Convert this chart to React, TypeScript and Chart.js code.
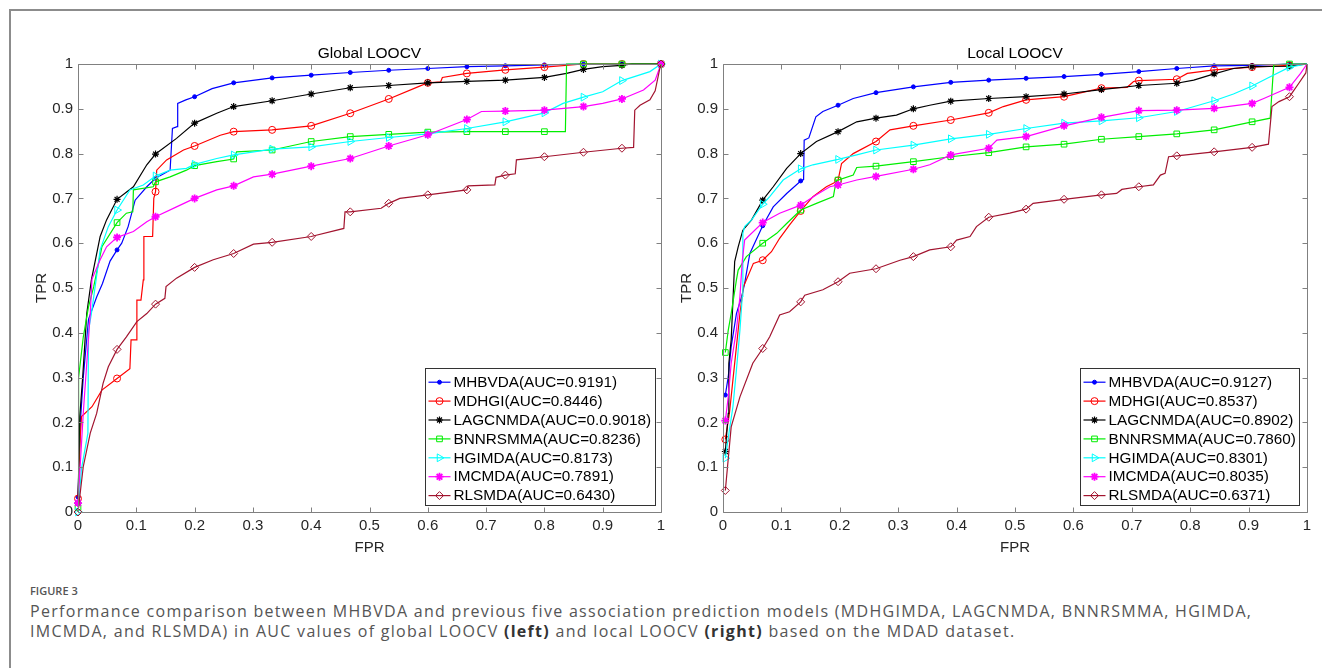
import React, { useEffect, useRef } from "react";
import { Chart, registerables } from "chart.js";
import { drawPoint } from "chart.js/helpers";

Chart.register(...registerables);

type Pt = [number, number];

const FONT = '"Liberation Sans", Arial, Helvetica, sans-serif';

const SERIES_NAMES = ["MHBVDA", "MDHGI", "LAGCNMDA", "BNNRSMMA", "HGIMDA", "IMCMDA", "RLSMDA"];
const GLOBAL_AUC = ["0.9191", "0.8446", "0.0.9018", "0.8236", "0.8173", "0.7891", "0.6430"];
const LOCAL_AUC = ["0.9127", "0.8537", "0.8902", "0.7860", "0.8301", "0.8035", "0.6371"];
const AXIS_TICKS = [0, 0.1, 0.2, 0.3, 0.4, 0.5, 0.6, 0.7, 0.8, 0.9, 1];

const MARKERS_GLOBAL = [0, 0.067, 0.133, 0.2, 0.267, 0.333, 0.4, 0.467, 0.533, 0.6, 0.667, 0.733, 0.8, 0.867, 0.933, 1];
const MARKERS_LOCAL = [0.004, 0.068, 0.133, 0.197, 0.262, 0.326, 0.39, 0.455, 0.519, 0.584, 0.648, 0.712, 0.777, 0.841, 0.906, 0.97];

// ---------- Global LOOCV ----------
const GLOBAL_MHBVDA: Pt[] = [[0, 0.033], [0.004, 0.2], [0.009, 0.3], [0.018, 0.43], [0.032, 0.48], [0.042, 0.51], [0.055, 0.56], [0.067, 0.585], [0.075, 0.6], [0.086, 0.637], [0.098, 0.696], [0.118, 0.726], [0.133, 0.745], [0.158, 0.763], [0.162, 0.856], [0.17, 0.86], [0.171, 0.912], [0.185, 0.92], [0.2, 0.927], [0.23, 0.945], [0.267, 0.958], [0.333, 0.969], [0.4, 0.975], [0.467, 0.981], [0.533, 0.986], [0.6, 0.99], [0.667, 0.994], [0.733, 0.996], [0.8, 0.998], [0.867, 1], [0.933, 1], [1, 1]];
const GLOBAL_MDHGI: Pt[] = [[0, 0.03], [0.004, 0.17], [0.006, 0.213], [0.024, 0.235], [0.041, 0.272], [0.067, 0.298], [0.089, 0.32], [0.091, 0.384], [0.1, 0.384], [0.101, 0.473], [0.108, 0.473], [0.112, 0.518], [0.113, 0.615], [0.128, 0.615], [0.13, 0.7], [0.133, 0.715], [0.135, 0.763], [0.152, 0.786], [0.181, 0.808], [0.2, 0.817], [0.244, 0.841], [0.267, 0.849], [0.333, 0.853], [0.4, 0.862], [0.467, 0.89], [0.533, 0.922], [0.585, 0.95], [0.6, 0.958], [0.622, 0.96], [0.625, 0.97], [0.667, 0.979], [0.733, 0.987], [0.8, 0.993], [0.867, 1], [0.933, 1], [1, 1]];
const GLOBAL_LAGCNMDA: Pt[] = [[0, 0.02], [0.003, 0.213], [0.008, 0.3], [0.015, 0.443], [0.023, 0.518], [0.038, 0.615], [0.049, 0.652], [0.067, 0.698], [0.095, 0.726], [0.118, 0.775], [0.133, 0.799], [0.169, 0.834], [0.2, 0.868], [0.238, 0.89], [0.267, 0.905], [0.333, 0.918], [0.4, 0.933], [0.467, 0.947], [0.533, 0.952], [0.6, 0.958], [0.667, 0.961], [0.733, 0.964], [0.8, 0.97], [0.838, 0.979], [0.867, 0.988], [0.9, 0.994], [0.933, 0.997], [0.95, 1], [1, 1]];
const GLOBAL_BNNRSMMA: Pt[] = [[0, 0.01], [0.001, 0.3], [0.009, 0.39], [0.018, 0.458], [0.027, 0.503], [0.041, 0.592], [0.067, 0.646], [0.083, 0.667], [0.094, 0.67], [0.095, 0.719], [0.129, 0.726], [0.133, 0.737], [0.158, 0.748], [0.186, 0.763], [0.2, 0.773], [0.238, 0.782], [0.267, 0.788], [0.272, 0.804], [0.333, 0.808], [0.4, 0.827], [0.467, 0.838], [0.533, 0.843], [0.6, 0.848], [0.667, 0.849], [0.733, 0.849], [0.8, 0.849], [0.836, 0.849], [0.838, 1], [0.867, 1], [0.933, 1], [1, 1]];
const GLOBAL_HGIMDA: Pt[] = [[0, 0], [0.006, 0.097], [0.017, 0.176], [0.018, 0.405], [0.023, 0.443], [0.031, 0.518], [0.038, 0.585], [0.052, 0.637], [0.067, 0.674], [0.089, 0.719], [0.112, 0.73], [0.133, 0.75], [0.158, 0.763], [0.186, 0.767], [0.2, 0.776], [0.238, 0.789], [0.267, 0.797], [0.333, 0.81], [0.4, 0.815], [0.467, 0.827], [0.533, 0.836], [0.6, 0.844], [0.667, 0.856], [0.733, 0.871], [0.8, 0.891], [0.832, 0.912], [0.867, 0.926], [0.9, 0.938], [0.933, 0.963], [0.981, 0.983], [1, 1]];
const GLOBAL_IMCMDA: Pt[] = [[0, 0.02], [0.009, 0.22], [0.021, 0.443], [0.024, 0.52], [0.038, 0.563], [0.049, 0.592], [0.067, 0.613], [0.095, 0.626], [0.118, 0.648], [0.133, 0.659], [0.169, 0.681], [0.2, 0.7], [0.238, 0.719], [0.267, 0.728], [0.301, 0.748], [0.333, 0.754], [0.4, 0.772], [0.467, 0.789], [0.533, 0.817], [0.6, 0.842], [0.667, 0.876], [0.692, 0.894], [0.733, 0.895], [0.8, 0.897], [0.867, 0.905], [0.9, 0.912], [0.933, 0.922], [0.97, 0.942], [0.99, 0.964], [1, 1]];
const GLOBAL_RLSMDA: Pt[] = [[0, 0], [0.009, 0.101], [0.021, 0.176], [0.032, 0.22], [0.043, 0.287], [0.052, 0.324], [0.067, 0.363], [0.083, 0.391], [0.101, 0.425], [0.118, 0.443], [0.133, 0.464], [0.149, 0.477], [0.151, 0.503], [0.169, 0.522], [0.2, 0.546], [0.232, 0.563], [0.267, 0.577], [0.301, 0.598], [0.333, 0.602], [0.4, 0.615], [0.456, 0.633], [0.458, 0.67], [0.467, 0.67], [0.52, 0.678], [0.533, 0.689], [0.552, 0.7], [0.6, 0.708], [0.667, 0.719], [0.669, 0.728], [0.715, 0.73], [0.717, 0.747], [0.733, 0.752], [0.75, 0.755], [0.752, 0.786], [0.8, 0.793], [0.867, 0.803], [0.933, 0.812], [0.953, 0.814], [0.955, 0.897], [0.964, 0.908], [0.981, 0.92], [0.99, 0.94], [0.998, 0.99], [1, 1]];

// ---------- Local LOOCV ----------
const LOCAL_MHBVDA: Pt[] = [[0.004, 0.261], [0.009, 0.302], [0.014, 0.369], [0.023, 0.443], [0.032, 0.481], [0.037, 0.51], [0.046, 0.577], [0.068, 0.639], [0.086, 0.681], [0.109, 0.711], [0.133, 0.739], [0.138, 0.742], [0.139, 0.83], [0.147, 0.835], [0.159, 0.882], [0.171, 0.894], [0.197, 0.908], [0.223, 0.923], [0.262, 0.936], [0.326, 0.949], [0.39, 0.959], [0.455, 0.964], [0.519, 0.968], [0.584, 0.972], [0.648, 0.977], [0.712, 0.983], [0.777, 0.99], [0.841, 0.996], [0.906, 0.997], [0.97, 1], [1, 1]];
const LOCAL_MDHGI: Pt[] = [[0.004, 0.162], [0.011, 0.22], [0.017, 0.295], [0.023, 0.369], [0.029, 0.443], [0.035, 0.503], [0.052, 0.555], [0.068, 0.562], [0.083, 0.581], [0.097, 0.611], [0.114, 0.641], [0.133, 0.672], [0.154, 0.704], [0.177, 0.726], [0.194, 0.737], [0.197, 0.74], [0.203, 0.778], [0.223, 0.8], [0.262, 0.827], [0.286, 0.853], [0.326, 0.862], [0.39, 0.875], [0.455, 0.891], [0.48, 0.905], [0.519, 0.92], [0.584, 0.927], [0.648, 0.946], [0.692, 0.948], [0.703, 0.961], [0.712, 0.963], [0.777, 0.966], [0.795, 0.979], [0.841, 0.987], [0.906, 0.993], [0.97, 0.997], [1, 1]];
const LOCAL_LAGCNMDA: Pt[] = [[0.004, 0.135], [0.009, 0.22], [0.01, 0.332], [0.014, 0.384], [0.018, 0.5], [0.02, 0.559], [0.026, 0.592], [0.034, 0.629], [0.049, 0.652], [0.068, 0.696], [0.086, 0.726], [0.109, 0.767], [0.133, 0.8], [0.16, 0.827], [0.197, 0.849], [0.229, 0.871], [0.262, 0.879], [0.297, 0.886], [0.326, 0.9], [0.354, 0.908], [0.39, 0.917], [0.455, 0.923], [0.519, 0.927], [0.584, 0.933], [0.648, 0.943], [0.712, 0.952], [0.777, 0.957], [0.806, 0.964], [0.841, 0.978], [0.874, 0.99], [0.906, 0.994], [0.97, 0.995], [1, 1]];
const LOCAL_BNNRSMMA: Pt[] = [[0.004, 0.356], [0.009, 0.406], [0.014, 0.443], [0.023, 0.518], [0.026, 0.54], [0.04, 0.57], [0.068, 0.6], [0.092, 0.622], [0.109, 0.644], [0.133, 0.674], [0.16, 0.689], [0.189, 0.704], [0.194, 0.741], [0.197, 0.741], [0.223, 0.752], [0.229, 0.769], [0.262, 0.772], [0.326, 0.782], [0.39, 0.793], [0.455, 0.802], [0.519, 0.815], [0.584, 0.821], [0.648, 0.832], [0.712, 0.838], [0.777, 0.844], [0.841, 0.853], [0.906, 0.871], [0.937, 0.879], [0.943, 0.998], [0.97, 1], [1, 1]];
const LOCAL_HGIMDA: Pt[] = [[0.004, 0.12], [0.011, 0.183], [0.017, 0.235], [0.023, 0.317], [0.029, 0.406], [0.033, 0.481], [0.034, 0.622], [0.037, 0.637], [0.049, 0.652], [0.068, 0.687], [0.08, 0.704], [0.103, 0.741], [0.133, 0.766], [0.154, 0.775], [0.197, 0.787], [0.229, 0.797], [0.262, 0.808], [0.326, 0.819], [0.39, 0.833], [0.455, 0.843], [0.519, 0.856], [0.584, 0.868], [0.648, 0.873], [0.712, 0.88], [0.777, 0.894], [0.841, 0.918], [0.874, 0.933], [0.906, 0.951], [0.932, 0.968], [0.97, 0.993], [1, 1]];
const LOCAL_IMCMDA: Pt[] = [[0.004, 0.204], [0.009, 0.257], [0.014, 0.332], [0.023, 0.406], [0.029, 0.481], [0.033, 0.56], [0.037, 0.607], [0.068, 0.646], [0.097, 0.667], [0.133, 0.685], [0.16, 0.708], [0.183, 0.726], [0.197, 0.73], [0.229, 0.741], [0.262, 0.749], [0.326, 0.765], [0.354, 0.775], [0.39, 0.797], [0.455, 0.812], [0.469, 0.83], [0.519, 0.838], [0.584, 0.862], [0.648, 0.881], [0.712, 0.896], [0.777, 0.897], [0.841, 0.901], [0.906, 0.912], [0.926, 0.923], [0.97, 0.948], [0.989, 0.979], [1, 1]];
const LOCAL_RLSMDA: Pt[] = [[0.004, 0.048], [0.014, 0.19], [0.029, 0.257], [0.051, 0.332], [0.068, 0.365], [0.08, 0.391], [0.097, 0.44], [0.114, 0.447], [0.133, 0.469], [0.14, 0.484], [0.171, 0.496], [0.197, 0.514], [0.217, 0.533], [0.262, 0.543], [0.303, 0.562], [0.326, 0.57], [0.354, 0.585], [0.39, 0.592], [0.4, 0.607], [0.423, 0.615], [0.434, 0.637], [0.455, 0.658], [0.491, 0.667], [0.519, 0.676], [0.531, 0.689], [0.584, 0.698], [0.648, 0.708], [0.674, 0.711], [0.683, 0.72], [0.712, 0.726], [0.737, 0.73], [0.749, 0.752], [0.757, 0.756], [0.763, 0.793], [0.777, 0.795], [0.841, 0.804], [0.906, 0.814], [0.934, 0.821], [0.94, 0.905], [0.952, 0.916], [0.97, 0.927], [0.986, 0.957], [0.998, 0.98], [1, 1]];

const GLOBAL_CURVES = [GLOBAL_MHBVDA, GLOBAL_MDHGI, GLOBAL_LAGCNMDA, GLOBAL_BNNRSMMA, GLOBAL_HGIMDA, GLOBAL_IMCMDA, GLOBAL_RLSMDA];
const LOCAL_CURVES = [LOCAL_MHBVDA, LOCAL_MDHGI, LOCAL_LAGCNMDA, LOCAL_BNNRSMMA, LOCAL_HGIMDA, LOCAL_IMCMDA, LOCAL_RLSMDA];

const COLORS = ["#0000FF", "#FF0000", "#000000", "#00EE00", "#00FFFF", "#FF00FF", "#A2142F"];
const MARKER_STYLES = [
  { pointStyle: "circle", radius: 2, rotation: 0, fill: true, bw: 1 },
  { pointStyle: "circle", radius: 3.5, rotation: 0, fill: false, bw: 1 },
  { pointStyle: "star", radius: 3.5, rotation: 0, fill: false, bw: 1.2 },
  { pointStyle: "rect", radius: 4, rotation: 0, fill: false, bw: 1 },
  { pointStyle: "triangle", radius: 4.5, rotation: 90, fill: false, bw: 1 },
  { pointStyle: "star", radius: 4, rotation: 0, fill: false, bw: 1.8 },
  { pointStyle: "rectRot", radius: 4, rotation: 0, fill: false, bw: 1 },
];

function isMarker(x: number, markers: number[]) {
  return markers.some((m) => Math.abs(m - x) < 1e-9);
}

const framePlugin = {
  id: "matlabFrame",
  afterDatasetsDraw(chart: any) {
    const { ctx, chartArea, scales } = chart;
    const { left, right, top, bottom } = chartArea;
    ctx.save();
    ctx.strokeStyle = "#808080";
    ctx.lineWidth = 1;
    ctx.beginPath();
    const L = Math.round(left) + 0.5, R = Math.round(right) + 0.5, T = Math.round(top) + 0.5, B = Math.round(bottom) + 0.5;
    ctx.rect(L, T, R - L, B - T);
    AXIS_TICKS.forEach((v) => {
      const px = Math.round(scales.x.getPixelForValue(v)) + 0.5;
      ctx.moveTo(px, B); ctx.lineTo(px, B - 5);
      ctx.moveTo(px, T); ctx.lineTo(px, T + 5);
      const py = Math.round(scales.y.getPixelForValue(v)) + 0.5;
      ctx.moveTo(L, py); ctx.lineTo(L + 5, py);
      ctx.moveTo(R, py); ctx.lineTo(R - 5, py);
    });
    ctx.stroke();
    ctx.restore();
  },
};

const insetLegendPlugin = {
  id: "insetLegend",
  afterDraw(chart: any, _args: any, opts: any) {
    const { ctx, chartArea } = chart;
    const labels: string[] = opts.labels;
    ctx.save();
    ctx.font = `15.3px ${FONT}`;
    const maxW = Math.max(...labels.map((t) => ctx.measureText(t).width));
    const boxW = 28 + maxW + 4;
    const boxH = 137;
    const right = chartArea.right - opts.rightInset;
    const bottom = chartArea.bottom - 7;
    const left = Math.round(right - boxW) + 0.5;
    const top = Math.round(bottom - boxH) + 0.5;
    ctx.fillStyle = "#ffffff";
    ctx.fillRect(left, top, boxW, boxH);
    ctx.strokeStyle = "#333333";
    ctx.lineWidth = 1;
    ctx.strokeRect(left, top, Math.round(boxW), boxH);
    labels.forEach((t, i) => {
      const cy = top + 13.7 + i * 18.9;
      ctx.strokeStyle = COLORS[i];
      ctx.lineWidth = 1.2;
      ctx.beginPath();
      ctx.moveTo(left + 3, cy);
      ctx.lineTo(left + 25, cy);
      ctx.stroke();
      const s = MARKER_STYLES[i];
      ctx.strokeStyle = COLORS[i];
      ctx.fillStyle = s.fill ? COLORS[i] : "rgba(0,0,0,0)";
      ctx.lineWidth = s.bw;
      drawPoint(ctx, { pointStyle: s.pointStyle as any, radius: s.radius, rotation: s.rotation, borderWidth: s.bw }, left + 14, cy);
      ctx.fillStyle = "#000000";
      ctx.textBaseline = "middle";
      ctx.textAlign = "left";
      ctx.fillText(t, left + 28, cy + 0.5);
    });
    ctx.restore();
  },
};

function buildChart(canvas: HTMLCanvasElement, title: string, curves: Pt[][], markers: number[], auc: string[], rightInset: number) {
  const datasets = curves.map((pts, i) => {
    const s = MARKER_STYLES[i];
    return {
      label: `${SERIES_NAMES[i]}(AUC=${auc[i]})`,
      data: pts.map(([x, y]) => ({ x, y })),
      borderColor: COLORS[i],
      borderWidth: 1.2,
      pointStyle: s.pointStyle,
      pointRotation: s.rotation,
      pointRadius: (ctx: any) => (ctx.raw && isMarker(ctx.raw.x, markers) ? s.radius : 0),
      pointBorderColor: COLORS[i],
      pointBackgroundColor: s.fill ? COLORS[i] : "rgba(0,0,0,0)",
      pointBorderWidth: s.bw,
      tension: 0,
      fill: false,
      clip: 10,
      order: 6 - i,
    };
  });
  const tickFont = { family: FONT, size: 15 };
  return new Chart(canvas, {
    type: "line",
    data: { datasets } as any,
    plugins: [framePlugin, insetLegendPlugin],
    options: {
      animation: false,
      responsive: false,
      events: [],
      layout: { padding: { left: 0, right: 10, top: 0, bottom: 0 } },
      plugins: {
        legend: { display: false },
        tooltip: { enabled: false },
        insetLegend: { labels: datasets.map((d) => d.label), rightInset },
      } as any,
      scales: {
        x: {
          type: "linear",
          position: "bottom",
          min: 0,
          max: 1,
          grid: { display: false, drawTicks: false },
          border: { display: false },
          ticks: {
            stepSize: 0.1,
            autoSkip: false,
            maxRotation: 0,
            padding: 5,
            color: "#262626",
            font: tickFont,
            callback: (v: any) => String(Math.round(Number(v) * 10) / 10),
          },
          title: { display: true, text: "FPR", color: "#262626", font: tickFont, padding: { top: 0, bottom: 3.6 } },
          afterFit: (s: any) => { s.height = 48; },
        },
        x2: {
          type: "linear",
          position: "top",
          min: 0,
          max: 1,
          display: true,
          grid: { display: false, drawTicks: false },
          border: { display: false },
          ticks: { display: false },
          title: { display: true, text: title, color: "#000000", font: { family: FONT, size: 15.5 }, padding: { top: 8, bottom: 0 } },
          afterFit: (s: any) => { s.height = 28; },
        },
        y: {
          type: "linear",
          position: "left",
          min: 0,
          max: 1,
          grid: { display: false, drawTicks: false },
          border: { display: false },
          ticks: {
            stepSize: 0.1,
            autoSkip: false,
            padding: 5,
            color: "#262626",
            font: tickFont,
            callback: (v: any) => String(Math.round(Number(v) * 10) / 10),
          },
          title: { display: true, text: "TPR", color: "#262626", font: tickFont, padding: { top: 12.7, bottom: 0 } },
          afterFit: (s: any) => { s.width = 58; },
        },
      } as any,
    },
  });
}

export default function App() {
  const leftRef = useRef<HTMLCanvasElement>(null);
  const rightRef = useRef<HTMLCanvasElement>(null);

  useEffect(() => {
    const c1 = buildChart(leftRef.current!, "Global LOOCV", GLOBAL_CURVES, MARKERS_GLOBAL, GLOBAL_AUC, 6);
    const c2 = buildChart(rightRef.current!, "Local LOOCV", LOCAL_CURVES, MARKERS_LOCAL, LOCAL_AUC, 8);
    return () => {
      c1.destroy();
      c2.destroy();
    };
  }, []);

  const captionFont = '"Open Sans", "Noto Sans", sans-serif';
  return (
    <div style={{ position: "absolute", left: 0, top: 0, width: 1322, height: 668, background: "#ffffff", overflow: "hidden" }}>
      <div style={{ position: "absolute", left: 9, top: 9, right: 0, bottom: 0, borderTop: "2px solid #8c8c8c", borderLeft: "2px solid #8c8c8c" }} />
      <canvas ref={leftRef} width={651} height={524} style={{ position: "absolute", left: 20, top: 36, width: 651, height: 524 }} />
      <canvas ref={rightRef} width={652} height={524} style={{ position: "absolute", left: 665, top: 36, width: 652, height: 524 }} />
      <div style={{ position: "absolute", left: 30, top: 584, fontFamily: captionFont, fontSize: 11, fontWeight: 600, lineHeight: "14px", color: "#555555", whiteSpace: "nowrap" }}>
        FIGURE 3
      </div>
      <div style={{ position: "absolute", left: 30, top: 601, fontFamily: captionFont, fontSize: 16, lineHeight: "20px", color: "#555555", whiteSpace: "nowrap", letterSpacing: "1.3px" }}>
        <div>Performance comparison between MHBVDA and previous five association prediction models (MDHGIMDA, LAGCNMDA, BNNRSMMA, HGIMDA,</div>
        <div>
          IMCMDA, and RLSMDA) in AUC values of global LOOCV <b style={{ color: "#333" }}>(left)</b> and local LOOCV <b style={{ color: "#333" }}>(right)</b> based on the MDAD dataset.
        </div>
      </div>
    </div>
  );
}
